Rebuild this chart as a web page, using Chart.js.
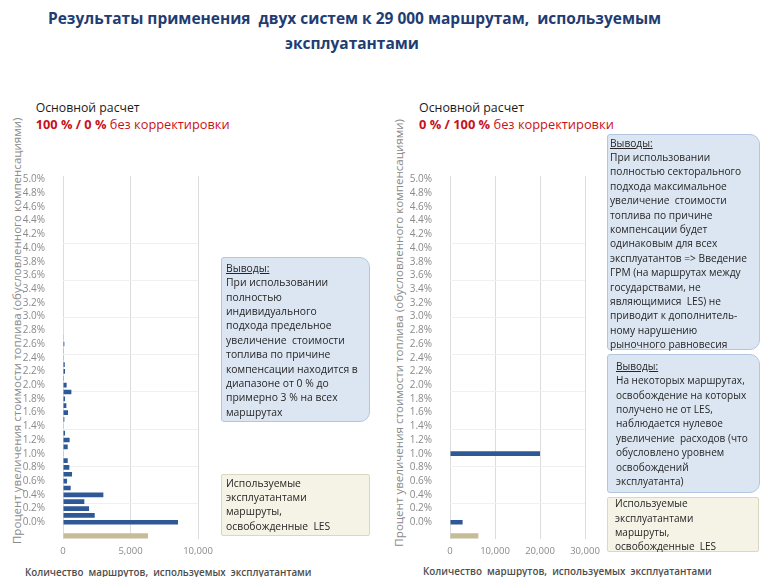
<!DOCTYPE html>
<html><head><meta charset="utf-8">
<script src="https://cdn.jsdelivr.net/npm/chart.js@4"></script>
<style>
html,body{margin:0;padding:0;}
body{width:764px;height:577px;position:relative;background:#fff;overflow:hidden;font-family:"Open Sans","Noto Sans",sans-serif;}
.t{position:absolute;white-space:pre;line-height:1;display:inline-block;}
.title{color:#1f3d72;font-weight:bold;font-size:18px;}
.sub{color:#1a1a1a;font-size:14px;}
.red{color:#c8101a;font-size:15px;}
.red b{font-weight:bold;}
.ytitle{color:#8a8a8a;font-size:13px;}
.xtitle{color:#4d4d4d;font-size:11px;font-weight:600;}
.box{position:absolute;box-sizing:border-box;z-index:3;}
.blue{background:#dce6f2;border:1px solid #b3c6e0;border-radius:3px 10px 10px 3px;}
.tan{background:#f5f2e6;border:1px solid #dcd7c2;border-radius:2px;}
.bt{position:absolute;white-space:pre;color:#262626;font-size:11px;line-height:14.4px;display:inline-block;z-index:4;}
canvas{position:absolute;z-index:1;}
</style></head><body>

<div class="t title" id="t1">Результаты применения  двух систем к 29 000 маршрутам,  используемым</div>
<div class="t title" id="t2">эксплуатантами</div>

<div class="t sub" id="s1">Основной расчет</div>
<div class="t red" id="r1"><b>100 % / 0 %</b> без корректировки</div>
<div class="t sub" id="s2">Основной расчет</div>
<div class="t red" id="r2"><b>0 % / 100 %</b> без корректировки</div>

<div class="t ytitle" id="y1">Процент увеличения стоимости топлива (обусловленного компенсациями)</div>
<div class="t ytitle" id="y2">Процент увеличения стоимости топлива (обусловленного компенсациями)</div>
<div class="t xtitle" id="x1">Количество  маршрутов,  используемых  эксплуатантами</div>
<div class="t xtitle" id="x2">Количество  маршрутов,  используемых  эксплуатантами</div>

<canvas id="c1" width="230" height="400" style="left:0px;top:160px;width:230px;height:400px"></canvas>
<canvas id="c2" width="230" height="400" style="left:385px;top:160px;width:230px;height:400px"></canvas>

<div class="box blue" style="left:221px;top:257px;width:149px;height:165px"></div>
<div class="bt" id="b1"><u>Выводы:</u>
При использовании
полностью
индивидуального
подхода предельное
увеличение  стоимости
топлива по причине
компенсации находится в
диапазоне от 0 % до
примерно 3 % на всех
маршрутах</div>

<div class="box tan" style="left:221px;top:474px;width:149px;height:62px"></div>
<div class="bt" id="b2">Используемые
эксплуатантами
маршруты,
освобожденные  LES</div>

<div class="box blue" style="left:607px;top:134px;width:153px;height:216px"></div>
<div class="bt" id="b3"><u>Выводы:</u>
При использовании
полностью секторального
подхода максимальное
увеличение  стоимости
топлива по причине
компенсации будет
одинаковым для всех
эксплуатантов => Введение
ГРМ (на маршрутах между
государствами, не
являющимися  LES) не
приводит к дополнитель-
ному нарушению
рыночного равновесия</div>

<div class="box blue" style="left:607px;top:354px;width:153px;height:139px"></div>
<div class="bt" id="b4"><u>Выводы:</u>
На некоторых маршрутах,
освобождение на которых
получено не от LES,
наблюдается нулевое
увеличение  расходов (что
обусловлено уровнем
освобождений
эксплуатанта)</div>

<div class="box tan" style="left:607px;top:497px;width:152px;height:55px"></div>
<div class="bt" id="b5">Используемые
эксплуатантами
маршруты,
освобожденные  LES</div>

<script>
// ---- DATA ----
// fuel-cost increase levels, bottom-up
const levels = ['0.0%','0.1%','0.2%','0.3%','0.4%','0.5%','0.6%','0.7%','0.8%','0.9%',
  '1.0%','1.1%','1.2%','1.3%','1.4%','1.5%','1.6%','1.7%','1.8%','1.9%',
  '2.0%','2.1%','2.2%','2.3%','2.4%','2.5%','2.6%','2.7%','2.8%','2.9%',
  '3.0%','3.1%','3.2%','3.3%','3.4%','3.5%','3.6%','3.7%','3.8%','3.9%',
  '4.0%','4.1%','4.2%','4.3%','4.4%','4.5%','4.6%','4.7%','4.8%','4.9%','5.0%'];
// number of routes per level, individual approach (100 % / 0 %)
const leftCounts = [8520,2350,1930,1580,2990,570,300,670,470,350,
  30,350,490,150,30,100,370,250,150,620,
  270,60,150,130,50,50,100,30,0,0,
  0,0,0,0,0,0,0,0,0,0,
  0,0,0,0,0,0,0,0,0,0,0];
// number of routes per level, sectoral approach (0 % / 100 %)
const rightCounts = [2800,0,0,0,0,0,0,0,0,0,
  20000,0,0,0,0,0,0,0,0,0,
  0,0,0,0,0,0,0,0,0,0,
  0,0,0,0,0,0,0,0,0,0,
  0,0,0,0,0,0,0,0,0,0,0];
// routes exempted by LES
const leftLES = 6300;
const rightLES = 6300;
const xTicksLeft = {max:10000, step:5000};
const xTicksRight = {max:30000, step:10000};

const BLUE = '#2f5896';
const TAN = '#c6bc98';

// ---- LAYOUT HELPERS ----
function fit(id, x, cy, w, opts){
  const el = document.getElementById(id);
  if(!el.dataset.fs) el.dataset.fs = parseFloat(getComputedStyle(el).fontSize);
  el.style.transform = 'none';
  el.style.fontSize = el.dataset.fs + 'px';
  let r = el.getBoundingClientRect();
  const fs = el.dataset.fs * w / r.width;
  el.style.fontSize = fs + 'px';
  r = el.getBoundingClientRect();
  if(opts && opts.rot){
    el.style.left = (x - r.width/2) + 'px';
    el.style.top = (cy - r.height/2) + 'px';
    el.style.transformOrigin = '50% 50%';
    el.style.transform = 'rotate(-90deg)';
  } else {
    el.style.left = (opts && opts.center ? x - r.width/2 : x) + 'px';
    el.style.top = (cy - r.height/2) + 'px';
  }
  return fs;
}
function fitBox(id, x, y0, w){
  const el = document.getElementById(id);
  if(!el.dataset.fs) el.dataset.fs = parseFloat(getComputedStyle(el).fontSize);
  el.style.fontSize = el.dataset.fs + 'px';
  const r = el.getBoundingClientRect();
  const fs = el.dataset.fs * w / r.width;
  el.style.fontSize = fs + 'px';
  el.style.left = x + 'px';
  el.style.top = (y0 - 7.2) + 'px';
  return fs;
}
function setBox(id, x, y0, fs){
  const el = document.getElementById(id);
  el.style.fontSize = fs + 'px';
  el.style.left = x + 'px';
  el.style.top = (y0 - 7.2) + 'px';
}
function layout(){
  const fs = fit('t1', 48, 19, 614);
  const t2 = document.getElementById('t2');
  t2.style.fontSize = fs + 'px';
  const r2 = t2.getBoundingClientRect();
  t2.style.left = (352 - r2.width/2) + 'px';
  t2.style.top = (44 - r2.height/2) + 'px';
  fit('s1', 35.7, 108.5, 104);
  fit('r1', 35.7, 124.5, 194);
  fit('s2', 419, 108.5, 105);
  fit('r2', 419, 124.5, 195);
  fit('y1', 17, 331, 427, {rot:true});
  fit('y2', 399, 333, 428, {rot:true});
  fit('x1', 25, 572.5, 287);
  fit('x2', 423, 571.5, 289);
  const f1 = fitBox('b1', 226, 268, 132);
  setBox('b2', 226, 482.7, f1);
  const f3 = fitBox('b3', 610, 142.7, 137);
  const f4 = fitBox('b4', 616, 366, 132);
  setBox('b5', 615, 503.3, Math.min(f3, f4));
}
layout();
if(document.fonts && document.fonts.ready) document.fonts.ready.then(layout);

// ---- CHARTS ----
const labels = levels.slice().reverse().concat(['', 'LES']);
function makeChart(id, counts, les, xt, yWidth, padRight){
  const blue = counts.slice().reverse().concat([null, null]);
  const tan = levels.map(() => null).concat([null, les]);
  const tickFont = {family:'"Open Sans", sans-serif', size:10};
  return new Chart(document.getElementById(id), {
    type:'bar',
    data:{labels, datasets:[
      {data:blue, backgroundColor:BLUE, barPercentage:0.68, categoryPercentage:1, grouped:false},
      {data:tan, backgroundColor:TAN, barPercentage:0.76, categoryPercentage:1, grouped:false}
    ]},
    options:{
      indexAxis:'y', responsive:false, animation:false, devicePixelRatio:1,
      layout:{padding:{top:15.6, right:padRight, left:0, bottom:0}},
      plugins:{legend:{display:false}, tooltip:{enabled:false}},
      scales:{
        x:{type:'linear', min:0, max:xt.max,
           ticks:{stepSize:xt.step, color:'#8a8a8a', font:{family:'"Open Sans", sans-serif', size:9.5}, padding:6,
                  callback:v => v.toLocaleString('en-US')},
           grid:{color:'#dcdcdc', drawTicks:false}, border:{display:false},
           afterFit:s => { s.height = 20.6; }},
        y:{type:'category',
           ticks:{autoSkip:false, color:'#8a8a8a', font:tickFont, padding:10,
                  callback:(v,i) => (i % 2 === 0 && i < levels.length) ? labels[i] : ''},
           grid:{display:false}, border:{display:false},
           afterFit:s => { s.width = yWidth; }},
        g:{type:'linear', axis:'y', position:'left', min:-0.973, max:7.814,
           ticks:{display:false, stepSize:1},
           grid:{drawTicks:false, color:ctx => (ctx.tick && Number.isInteger(ctx.tick.value)) ? '#f0f0f0' : 'rgba(0,0,0,0)'},
           border:{display:false},
           afterFit:s => { s.width = 0; }}
      }
    }
  });
}
makeChart('c1', leftCounts, leftLES, xTicksLeft, 63, 32);
makeChart('c2', rightCounts, rightLES, xTicksRight, 65, 30);
</script>
</body></html>
